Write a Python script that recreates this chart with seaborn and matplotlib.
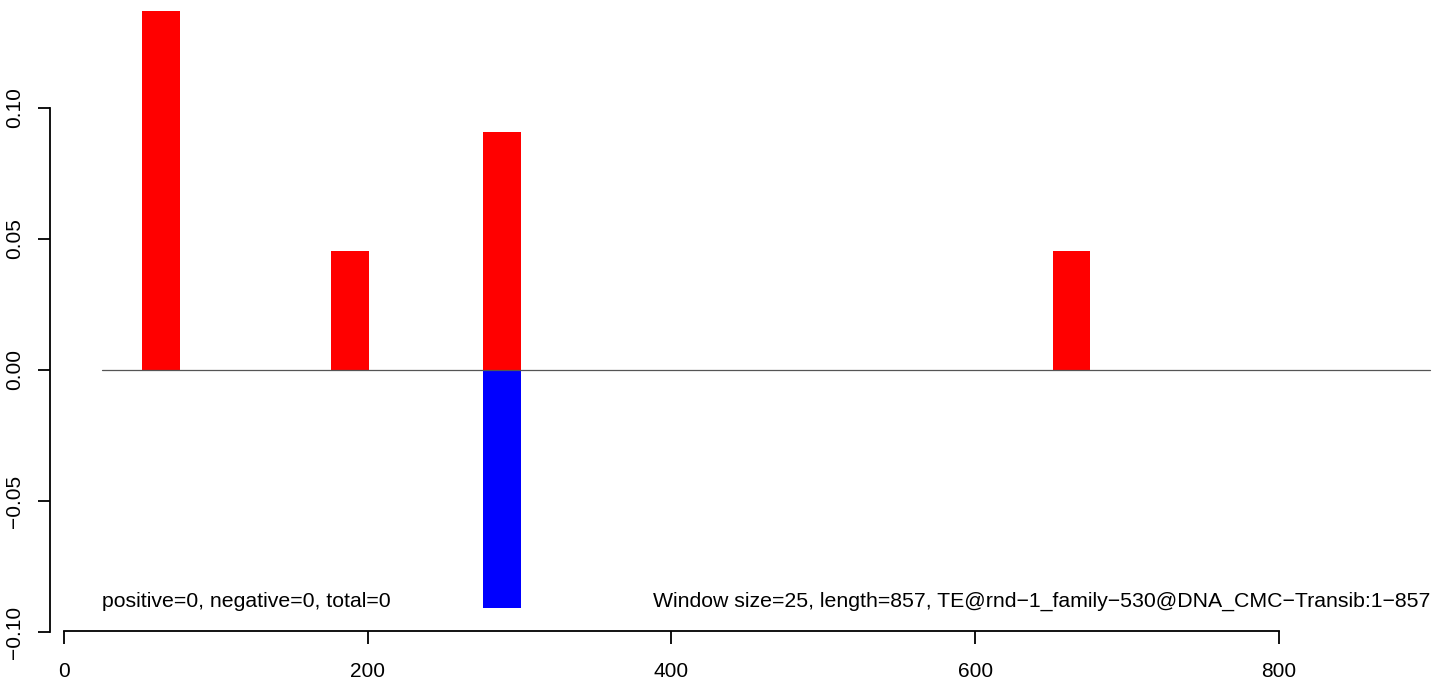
import matplotlib
matplotlib.use("Agg")
import matplotlib.pyplot as plt
import seaborn as sns
import pandas as pd

# windows of 25 bp along the TE consensus (bar centres, 1-based)
pos_centers = [63.5, 188.5, 288.5, 663.5]
pos_values = [0.137, 0.0455, 0.0909, 0.0455]
neg_centers = [288.5]
neg_values = [-0.0909]

x_ticks = [0, 200, 400, 600, 800]
y_ticks = [-0.10, -0.05, 0.00, 0.05, 0.10]
y_labels = ["\u22120.10", "\u22120.05", "0.00", "0.05", "0.10"]

left_text = "positive=0, negative=0, total=0"
right_text = "Window size=25, length=857, TE@rnd\u22121_family\u2212530@DNA_CMC\u2212Transib:1\u2212857"

sns.set_style("white")
plt.rcParams["font.family"] = ["Liberation Sans", "DejaVu Sans"]
plt.rcParams["text.color"] = "black"
plt.rcParams["xtick.color"] = "black"
plt.rcParams["ytick.color"] = "black"

df = pd.DataFrame({
    "pos": pos_centers + neg_centers,
    "score": pos_values + neg_values,
    "strand": ["plus"] * len(pos_values) + ["minus"] * len(neg_values),
})

fig = plt.figure(figsize=(14.44, 6.8), dpi=100)
ax = fig.add_axes([0, 0, 1, 1])
ax.patch.set_alpha(0)

sns.barplot(data=df, x="pos", y="score", hue="strand",
            palette={"plus": "#FF0000", "minus": "#0000FF"},
            native_scale=True, dodge=False, width=0.25, saturation=1,
            errorbar=None, linewidth=0, legend=False, ax=ax)

# zero line across the sequence
ax.plot([25, 900], [0, 0], color="#555555", lw=0.9)

ax.text(25, -0.0885, left_text, ha="left", va="center", fontsize=15.3, color="black")
ax.text(900, -0.0885, right_text, ha="right", va="center", fontsize=15.3, color="black")

ax.set_xlim(-42.36, 908.9)
ax.set_ylim(-0.11832, 0.14122)

# R-style detached axes
for side in ["top", "right"]:
    ax.spines[side].set_visible(False)
ax.spines["left"].set_position(("data", -9.4))
ax.spines["left"].set_bounds(-0.10, 0.10)
ax.spines["bottom"].set_position(("data", -0.0996))
ax.spines["bottom"].set_bounds(0, 800)
for side in ["left", "bottom"]:
    ax.spines[side].set_color("black")
    ax.spines[side].set_linewidth(1.3)

ax.set_xticks(x_ticks)
ax.set_xticklabels([str(t) for t in x_ticks])
ax.set_yticks(y_ticks)
ax.set_yticklabels(y_labels, rotation=90, va="center")
ax.tick_params(axis="both", direction="out", length=9, width=1.3,
               color="black", labelcolor="black", labelsize=15,
               left=True, bottom=True)
ax.tick_params(axis="y", pad=10)
ax.tick_params(axis="x", pad=13)
ax.set_xlabel("")
ax.set_ylabel("")

fig.savefig("out.png", dpi=100, facecolor="white")
